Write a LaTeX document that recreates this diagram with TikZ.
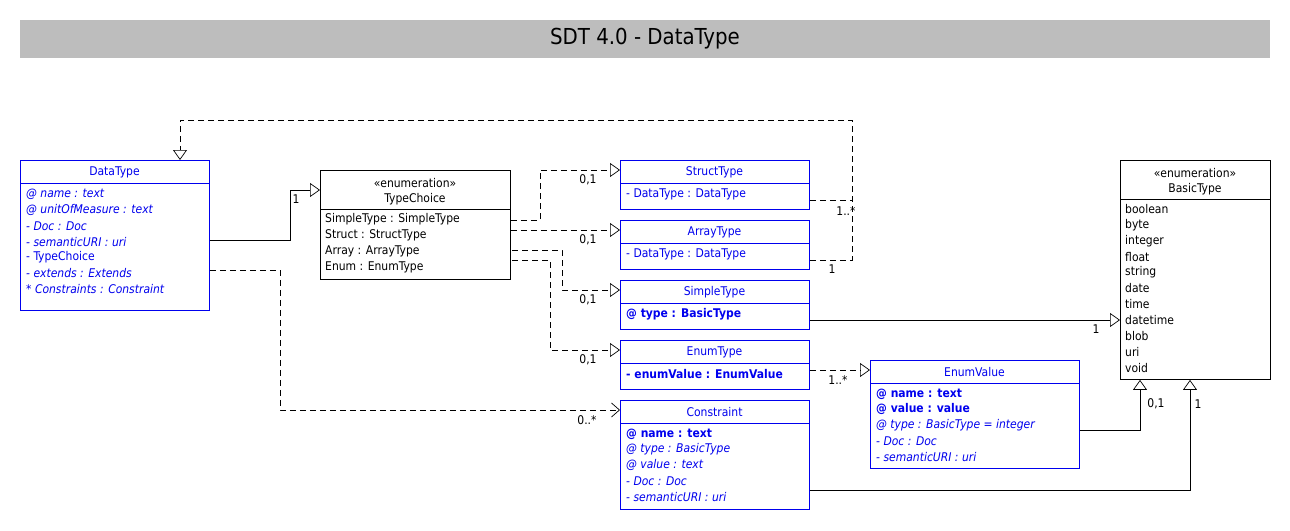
\documentclass[tikz,border=0pt]{standalone}
\usepackage{fontspec}
\setmainfont{DejaVu Sans Condensed}
\usetikzlibrary{arrows.meta}
\definecolor{umlblue}{HTML}{0000EE}
\begin{document}
\begin{tikzpicture}[x=1pt,y=-1pt,
  box/.style={draw=#1,line width=0.9pt,anchor=north west,inner sep=0pt,fill=white},
  t/.style={anchor=west,inner sep=0pt,font=\fontsize{12}{14}\selectfont,text=#1},
  t/.default=black,
  bt/.style={t=umlblue},
  it/.style={t=umlblue,font=\fontsize{12}{14}\selectfont\itshape},
  bf/.style={t=umlblue,font=\fontsize{12}{14}\selectfont\bfseries},
  c/.style={anchor=center,inner sep=0pt,font=\fontsize{12}{14}\selectfont,text=#1},
  c/.default=black,
  lab/.style={inner sep=0pt,font=\fontsize{12}{14}\selectfont},
  con/.style={line width=0.7pt},
  dsh/.style={con,dash pattern=on 6pt off 4pt},
  tri/.style={-{Triangle[open,length=10pt,width=14pt]}},
  barb/.style={-{Straight Barb[length=8pt,width=14pt]}}]
\useasboundingbox (0,0) rectangle (1290,530);
% title
\node[fill=black!26,minimum width=1250pt,minimum height=38pt,anchor=north west,inner sep=0pt] (title) at (20,20) {};
\node[font=\fontsize{22}{24}\selectfont] (titletext) at (645,39) {SDT 4.0 - DataType};
% DataType
\node[box=umlblue,minimum width=189pt,minimum height=150pt] (dt) at (20,160) {};
\draw[umlblue,line width=0.9pt] (20,183) -- (209,183);
\node[c=umlblue] (dtn) at (114.5,172) {DataType};
\node[it] (dt1) at (26,194) {@ name : text};
\node[it] (dt2) at (26,210) {@ unitOfMeasure : text};
\node[it] (dt3) at (26,226) {- Doc : Doc};
\node[it] (dt4) at (26,242) {- semanticURI : uri};
\node[bt] (dt5) at (26,257) {- TypeChoice};
\node[it] (dt6) at (26,273) {- extends : Extends};
\node[it] (dt7) at (26,289) {* Constraints : Constraint};
% TypeChoice
\node[box=black,minimum width=190pt,minimum height=109pt] (tc) at (320,170) {};
\draw[line width=0.9pt] (320,209) -- (510,209);
\node[c] (tcs) at (415,183) {«enumeration»};
\node[c] (tcn) at (415,199) {TypeChoice};
\node[t] (tc1) at (325,219) {SimpleType : SimpleType};
\node[t] (tc2) at (325,235) {Struct : StructType};
\node[t] (tc3) at (325,251) {Array : ArrayType};
\node[t] (tc4) at (325,267) {Enum : EnumType};
% StructType
\node[box=umlblue,minimum width=189pt,minimum height=49pt] (st) at (620,160) {};
\draw[umlblue,line width=0.9pt] (620,183) -- (809,183);
\node[c=umlblue] (stn) at (714.5,172) {StructType};
\node[bt] (st1) at (626,194) {- DataType : DataType};
% ArrayType
\node[box=umlblue,minimum width=189pt,minimum height=49pt] (at) at (620,220) {};
\draw[umlblue,line width=0.9pt] (620,243) -- (809,243);
\node[c=umlblue] (atn) at (714.5,232) {ArrayType};
\node[bt] (at1) at (626,254) {- DataType : DataType};
% SimpleType
\node[box=umlblue,minimum width=189pt,minimum height=49pt] (smt) at (620,280) {};
\draw[umlblue,line width=0.9pt] (620,303) -- (809,303);
\node[c=umlblue] (smtn) at (714.5,292) {SimpleType};
\node[bf] (smt1) at (626,314) {@ type : BasicType};
% EnumType
\node[box=umlblue,minimum width=189pt,minimum height=49pt] (et) at (620,340) {};
\draw[umlblue,line width=0.9pt] (620,363) -- (809,363);
\node[c=umlblue] (etn) at (714.5,352) {EnumType};
\node[bf] (et1) at (626,374) {- enumValue : EnumValue};
% Constraint
\node[box=umlblue,minimum width=189pt,minimum height=109pt] (cs) at (620,400) {};
\draw[umlblue,line width=0.9pt] (620,423) -- (809,423);
\node[c=umlblue] (csn) at (714.5,412) {Constraint};
\node[bf] (cs1) at (626,434) {@ name : text};
\node[it] (cs2) at (626,449) {@ type : BasicType};
\node[it] (cs3) at (626,465) {@ value : text};
\node[it] (cs4) at (626,481) {- Doc : Doc};
\node[it] (cs5) at (626,497) {- semanticURI : uri};
% EnumValue
\node[box=umlblue,minimum width=209pt,minimum height=108pt] (ev) at (870,360) {};
\draw[umlblue,line width=0.9pt] (870,383) -- (1079,383);
\node[c=umlblue] (evn) at (974.5,372) {EnumValue};
\node[bf] (ev1) at (876,394) {@ name : text};
\node[bf] (ev2) at (876,409) {@ value : value};
\node[it] (ev3) at (876,425) {@ type : BasicType = integer};
\node[it] (ev4) at (876,441) {- Doc : Doc};
\node[it] (ev5) at (876,457) {- semanticURI : uri};
% BasicType
\node[box=black,minimum width=150pt,minimum height=219pt] (bt) at (1120,160) {};
\draw[line width=0.9pt] (1120,199) -- (1270,199);
\node[c] (bts) at (1195,173) {«enumeration»};
\node[c] (btn) at (1195,189) {BasicType};
\foreach \s [count=\i from 0] in {boolean,byte,integer,float,string,date,time,datetime,blob,uri,void}
  \node[t] (bt\i) at (1125,{209+15.9*\i}) {\s};
% connectors
\draw[con,tri] (dt.east |- 0,240) -- (290,240) -- (290,190) -- (tc.west |- 0,190);
\node[lab] (l1) at (296,199) {1};
\draw[dsh,barb] (dt.east |- 0,270) -- (280,270) -- (280,410) -- (cs.west |- 0,410);
\node[lab] (l2) at (587,420) {0..*};
\draw[dsh,tri] (tc.east |- 0,220) -- (540,220) -- (540,170) -- (st.west |- 0,170);
\node[lab] (l3) at (588,180) {0,1};
\draw[dsh,tri] (tc.east |- 0,230) -- (at.west |- 0,230);
\node[lab] (l4) at (588,240) {0,1};
\draw[dsh,tri] (512,250) -- (562,250) -- (562,290) -- (smt.west |- 0,290);
\node[lab] (l5) at (588,300) {0,1};
\draw[dsh,tri] (512,260) -- (550,260) -- (550,350) -- (et.west |- 0,350);
\node[lab] (l6) at (588,360) {0,1};
\draw[dsh,tri] (at.east |- 0,260) -- (852,260) -- (852,120) -- (180,120) -- (dt.north -| 180,0);
\draw[dsh] (st.east |- 0,200) -- (852,200);
\node[lab] (l7) at (846,211) {1..*};
\node[lab] (l8) at (832,269) {1};
\draw[con,tri] (smt.east |- 0,320) -- (bt.west |- 0,320);
\node[lab] (l9) at (1096,329) {1};
\draw[dsh,tri] (et.east |- 0,370) -- (ev.west |- 0,370);
\node[lab] (l10) at (838,380) {1..*};
\draw[con,tri] (ev.east |- 0,430) -- (1140,430) -- (bt.south -| 1140,0);
\node[lab] (l11) at (1156,404) {0,1};
\draw[con,tri] (cs.east |- 0,490) -- (1190,490) -- (bt.south -| 1190,0);
\node[lab] (l12) at (1198,404) {1};
\end{tikzpicture}
\end{document}
